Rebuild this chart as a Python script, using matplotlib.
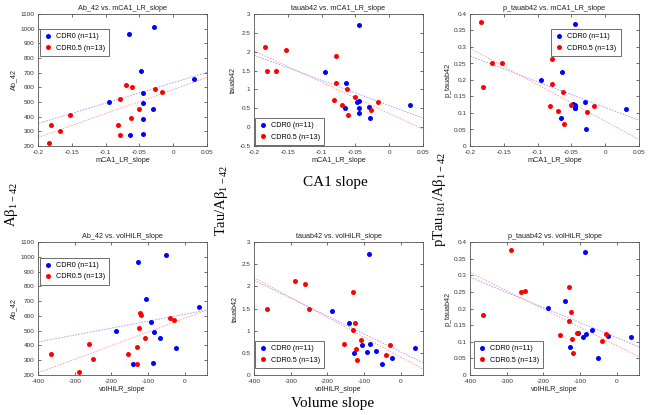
import numpy as np
import matplotlib
matplotlib.use('Agg')
import matplotlib.pyplot as plt

plt.rcParams['font.family'] = ['Liberation Sans', 'DejaVu Sans']
plt.rcParams['mathtext.fontset'] = 'custom'
plt.rcParams['mathtext.rm'] = 'Liberation Serif'

# CDR0 (n=11), one entry per subject
cdr0_ca1 = [-0.065, -0.028, -0.047, 0.031, -0.044, -0.095, -0.045, -0.030, -0.044, -0.064, -0.045]
cdr0_vol = [-129, -51, -107, 39, -93, -187, -85, -67, -24, -142, -88]
cdr0_ab42 = [966, 1009, 711, 659, 560, 497, 494, 451, 384, 273, 282]
cdr0_tau = [0.50, 0.245, 0.67, 0.60, 0.52, 1.45, 0.70, 0.54, 0.38, 1.165, 2.72]
cdr0_ptau = [0.084, 0.050, 0.127, 0.113, 0.115, 0.201, 0.123, 0.134, 0.116, 0.223, 0.370]

# CDR0.5 (n=13)
cdr05_ca1 = [-0.070, -0.061, -0.027, -0.017, -0.078, -0.050, -0.153, -0.062, -0.181, -0.081, -0.168, -0.079, -0.184]
cdr05_vol = [-123, -119, -42, -31, -126, -108, -260, -131, -364, -154, -250, -130, -289]
cdr05_ab42 = [619, 603, 587, 569, 519, 451, 409, 388, 341, 341, 305, 272, 222]
cdr05_tau = [0.58, 0.33, 0.455, 0.67, 1.17, 0.80, 2.05, 1.005, 1.49, 0.71, 1.49, 1.88, 2.13]
cdr05_ptau = [0.107, 0.067, 0.102, 0.122, 0.189, 0.125, 0.250, 0.163, 0.179, 0.120, 0.252, 0.264, 0.377]

# rows: x variable
rows = [
    ('mCA1_LR_slope', cdr0_ca1, cdr05_ca1, (-0.2, 0.05), [-0.2, -0.15, -0.1, -0.05, 0, 0.05]),
    ('volHiLR_slope', cdr0_vol, cdr05_vol, (-400, 60), [-400, -300, -200, -100, 0]),
]
# columns: y variable
cols = [
    ('Ab_42', cdr0_ab42, cdr05_ab42),
    ('tauab42', cdr0_tau, cdr05_tau),
    ('p_tauab42', cdr0_ptau, cdr05_ptau),
]
ylims = [
    [(200, 1100), (-0.5, 3), (0, 0.4)],
    [(200, 1100), (0, 3), (0, 0.4)],
]
ystep = {'Ab_42': 100, 'tauab42': 0.5, 'p_tauab42': 0.05}
# legend (loc, anchor) per panel
legends = [
    [('upper left', (0.012, 0.886)), ('lower left', (0.006, 0.008)), ('upper left', (0.482, 0.886))],
    [('upper left', (0.012, 0.882)), ('lower left', (0.006, 0.053)), ('lower left', (0.022, 0.053))],
]

W, H = 649, 415
fig = plt.figure(figsize=(W / 100, H / 100), dpi=100)
fig.patch.set_facecolor('white')

lefts = [38, 254, 470]
tops = [14, 242]
bottoms = [146, 375]

fmt = lambda v, pos: '%g' % round(v, 4)

for r, (xname, x0, x05, xlim, xt) in enumerate(rows):
    for c, (yname, y0, y05) in enumerate(cols):
        ax = fig.add_axes([lefts[c] / W, 1 - bottoms[r] / H, 169 / W, (bottoms[r] - tops[r]) / H])
        ax.plot(x0, y0, 'o', color='#0000ff', ms=3.6, mec='none', label='CDR0 (n=11)')
        ax.plot(x05, y05, 'o', color='#ff0000', ms=3.6, mec='none', label='CDR0.5 (n=13)')
        xs = np.array(xlim)
        for xv, yv, col in [(x0, y0, '#9a9aff'), (x05, y05, '#ff9a9a')]:
            p = np.polyfit(xv, yv, 1)
            ax.plot(xs, np.polyval(p, xs), '--', color=col, lw=0.6, dashes=(2, 1.5), zorder=1)
        lo, hi = ylims[r][c]
        ax.set_xticks(xt)
        ax.set_yticks(np.arange(lo, hi + ystep[yname] / 2, ystep[yname]))
        ax.set_xlim(xlim)
        ax.set_ylim(lo, hi)
        ax.xaxis.set_major_formatter(fmt)
        ax.yaxis.set_major_formatter(fmt)
        ax.tick_params(direction='in', length=2, width=0.5, top=True, right=True,
                       labelsize=4.6, colors='#333333')
        ax.tick_params(axis='x', pad=3)
        ax.tick_params(axis='y', pad=2.5)
        for s in ax.spines.values():
            s.set_linewidth(0.6)
            s.set_color('#555555')
        ax.set_title(yname + ' vs. ' + xname, fontsize=5.2, pad=3, color='#222222')
        ax.set_xlabel(xname, fontsize=5.2, labelpad=1, color='#222222')
        ax.set_ylabel(yname, fontsize=5.2, labelpad=2, color='#222222')
        loc, anchor = legends[r][c]
        leg = ax.legend(loc=loc, bbox_to_anchor=anchor, fontsize=5.2, numpoints=1,
                        handlelength=1.0, handletextpad=0.6, borderpad=0.6,
                        labelspacing=0.6, fancybox=False, framealpha=1,
                        edgecolor='#555555', borderaxespad=0)
        leg.get_frame().set_linewidth(0.6)

# large side / bottom labels
serif = ['Liberation Serif', 'DejaVu Serif']
fig.text(12 / W, 1 - 205 / H, 'Aβ$_{\\mathrm{1-42}}$', rotation=90,
         ha='center', va='center', fontsize=10.5, family=serif)
fig.text(222 / W, 1 - 200 / H, 'Tau/Aβ$_{\\mathrm{1-42}}$', rotation=90,
         ha='center', va='center', fontsize=10.5, family=serif)
fig.text(440 / W, 1 - 200 / H, 'pTau$_{\\mathrm{181}}$/Aβ$_{\\mathrm{1-42}}$', rotation=90,
         ha='center', va='center', fontsize=10.5, family=serif)
fig.text(335 / W, 1 - 182 / H, 'CA1 slope', ha='center', va='center', fontsize=11, family=serif)
fig.text(333 / W, 1 - 403 / H, 'Volume slope', ha='center', va='center', fontsize=11, family=serif)

fig.savefig('out.png', dpi=100, facecolor='white')
